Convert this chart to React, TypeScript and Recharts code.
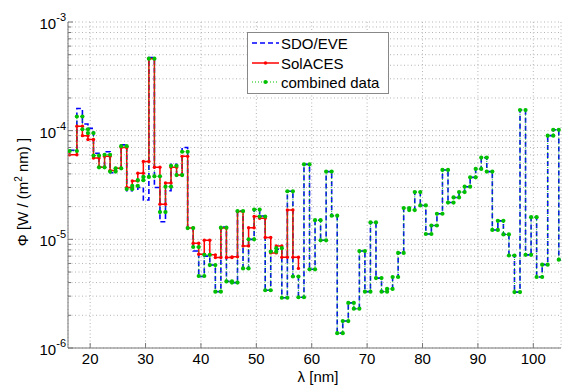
import React from 'react';
import { LineChart, Line, XAxis, YAxis, CartesianGrid } from 'recharts';

const FONT = '"Liberation Sans", Arial, Helvetica, sans-serif';

// wavelength bin edges [nm]; bin i spans binEdges[i]..binEdges[i+1]
const binEdges = [
  16.3, 17.6, 18.6, 19.6, 20.6, 21.6, 22.6, 23.6, 24.6, 25.6, 26.6, 27.6, 28.6, 29.6, 30.6,
  31.6, 32.6, 33.6, 34.6, 35.6, 36.6, 37.6, 38.6, 39.6, 40.6, 41.6, 42.6, 43.6, 44.6, 45.6,
  46.6, 47.6, 48.6, 49.6, 50.6, 51.6, 52.6, 53.6, 54.6, 55.6, 56.6, 57.6, 58.6, 59.6, 60.6,
  61.6, 62.6, 63.6, 64.6, 65.6, 66.6, 67.6, 68.6, 69.6, 70.6, 71.6, 72.6, 73.6, 74.6, 75.6,
  76.6, 77.6, 78.6, 79.6, 80.6, 81.6, 82.6, 83.6, 84.6, 85.6, 86.6, 87.6, 88.6, 89.6, 90.6,
  91.6, 92.6, 93.6, 94.6, 95.6, 96.6, 97.6, 98.6, 99.6, 100.6, 101.6, 102.6, 103.6, 104.6, 105.6,
];

// SDO/EVE flux per bin [W/(m^2 nm)]
const sdoEve = [
  6.6e-5, 1.6e-4, 1.15e-4, 1.05e-4, 6.2e-5, 4.6e-5, 6.4e-5, 4.1e-5, 4.5e-5, 7.4e-5,
  2.8e-5, 2.9e-5, 3.0e-5, 2.3e-5, 4.7e-4, 3.0e-5, 1.45e-5, 2.8e-5, 4.9e-5, 3.9e-5,
  7.0e-5, 1.27e-5, 7.8e-6, 4.55e-6, 7.0e-6, 5.8e-6, 3.3e-6, 1.3e-5, 4.1e-6, 4.0e-6,
  1.82e-5, 5.4e-6, 1.0e-5, 1.88e-5, 1.64e-5, 3.4e-6, 7.8e-6, 8.1e-6, 2.9e-6, 2.77e-5,
  4.55e-6, 2.93e-6, 4.9e-5, 5.3e-6, 1.5e-5, 9.8e-6, 4.2e-5, 1.65e-5, 1.37e-6, 1.77e-6,
  2.6e-6, 2.3e-6, 7.8e-6, 3.3e-6, 1.43e-5, 4.4e-6, 3.3e-6, 3.5e-6, 4.5e-6, 7.5e-6,
  1.94e-5, 1.86e-5, 2.72e-5, 2.05e-5, 1.12e-5, 1.34e-5, 1.72e-5, 4.35e-5, 2.18e-5, 2.43e-5,
  2.72e-5, 3.05e-5, 3.72e-5, 4.45e-5, 5.65e-5, 4.2e-5, 1.22e-5, 1.48e-5, 1.11e-5, 7.1e-6,
  3.27e-6, 1.55e-4, 7.2e-6, 1.6e-5, 4.5e-6, 5.85e-6, 9.0e-5, 1.02e-4, 6.5e-6,
];

// SolACES flux per bin (first 41 bins) and its closing vertex
const solAces = [
  6.0e-5, 1.1e-4, 9.0e-5, 8.3e-5, 5.6e-5, 4.6e-5, 5.8e-5, 4.3e-5, 4.5e-5, 7.0e-5,
  3.0e-5, 3.45e-5, 4.05e-5, 5.2e-5, 4.6e-4, 4.6e-5, 2.1e-5, 3.3e-5, 4.6e-5, 3.9e-5,
  5.8e-5, 1.27e-5, 9.2e-6, 7.3e-6, 9.8e-6, 7.2e-6, 6.8e-6, 1.27e-5, 6.8e-6, 6.9e-6,
  1.8e-5, 8.7e-6, 1.28e-5, 1.62e-5, 1.56e-5, 1.04e-5, 7.5e-6, 8.7e-6, 6.85e-6, 1.86e-5,
  6.85e-6,
];
const solAcesEnd = 5.4e-6;

// combined data per bin
const combined = [
  6.5e-5, 1.35e-4, 1.03e-4, 9.5e-5, 5.9e-5, 4.6e-5, 6.0e-5, 4.2e-5, 4.5e-5, 7.2e-5,
  2.9e-5, 3.1e-5, 3.5e-5, 3.75e-5, 4.6e-4, 3.8e-5, 1.78e-5, 3.05e-5, 4.75e-5, 3.9e-5,
  6.4e-5, 1.27e-5, 8.5e-6, 4.6e-6, 7.2e-6, 5.8e-6, 3.3e-6, 1.28e-5, 4.1e-6, 4.0e-6,
  1.82e-5, 5.4e-6, 1.0e-5, 1.88e-5, 1.62e-5, 3.4e-6, 7.7e-6, 8.3e-6, 2.9e-6, 2.77e-5,
  4.55e-6, 2.93e-6, 4.9e-5, 5.3e-6, 1.5e-5, 9.8e-6, 4.2e-5, 1.65e-5, 1.37e-6, 1.77e-6,
  2.6e-6, 2.3e-6, 7.8e-6, 3.3e-6, 1.43e-5, 4.4e-6, 3.3e-6, 3.5e-6, 4.5e-6, 7.5e-6,
  1.94e-5, 1.86e-5, 2.72e-5, 2.05e-5, 1.12e-5, 1.34e-5, 1.72e-5, 4.35e-5, 2.18e-5, 2.43e-5,
  2.72e-5, 3.05e-5, 3.72e-5, 4.45e-5, 5.65e-5, 4.2e-5, 1.22e-5, 1.48e-5, 1.11e-5, 7.1e-6,
  3.27e-6, 1.55e-4, 7.2e-6, 1.6e-5, 4.5e-6, 5.85e-6, 9.0e-5, 1.02e-4, 6.5e-6,
];

const xDomain = [16, 105];
const xTicks = [20, 30, 40, 50, 60, 70, 80, 90, 100];
const yDomain = [1e-6, 1e-3];
const yTicks = [
  1e-6, 2e-6, 3e-6, 4e-6, 5e-6, 6e-6, 7e-6, 8e-6, 9e-6,
  1e-5, 2e-5, 3e-5, 4e-5, 5e-5, 6e-5, 7e-5, 8e-5, 9e-5,
  1e-4, 2e-4, 3e-4, 4e-4, 5e-4, 6e-4, 7e-4, 8e-4, 9e-4,
  1e-3,
];
const yDecades = [1e-6, 1e-5, 1e-4, 1e-3];

function stairs(values: number[], edges: number[]) {
  const pts: { x: number; y: number }[] = [];
  values.forEach((v, i) => {
    pts.push({ x: edges[i], y: v });
    pts.push({ x: edges[i + 1], y: v });
  });
  return pts;
}

const eveData = stairs(sdoEve, binEdges);
const solData = [...stairs(solAces, binEdges), { x: binEdges[solAces.length], y: solAcesEnd }];
const combData = stairs(combined, binEdges);

const AXIS = '#777';
const BLUE = '#0000ff';
const RED = '#ff0000';
const GREEN = '#00c000';

const isDecade = (v: number) => yDecades.some((d) => Math.abs(v / d - 1) < 1e-6);

const LeftTick = (p: any) => {
  const v = p.payload.value;
  const major = isDecade(v);
  const exp = Math.round(Math.log10(v));
  return (
    <g>
      <line x1={p.x} y1={p.y} x2={p.x + (major ? 5 : 3)} y2={p.y} stroke={AXIS} />
      {major && (
        <text x={p.x - 2} y={p.y + 7} textAnchor="end" fontSize={15} fontFamily={FONT} fill="#000">
          10
          <tspan dy={-8} fontSize={11}>{String(exp)}</tspan>
        </text>
      )}
    </g>
  );
};

const RightTick = (p: any) => {
  const major = isDecade(p.payload.value);
  return <line x1={p.x} y1={p.y} x2={p.x - (major ? 5 : 3)} y2={p.y} stroke={AXIS} />;
};

const BottomTick = (p: any) => (
  <g>
    <line x1={p.x} y1={p.y} x2={p.x} y2={p.y - 5} stroke={AXIS} />
    <text x={p.x} y={p.y + 16} textAnchor="middle" fontSize={15} fontFamily={FONT} fill="#000">
      {p.payload.value}
    </text>
  </g>
);

const TopTick = (p: any) => <line x1={p.x} y1={p.y} x2={p.x} y2={p.y + 5} stroke={AXIS} />;

const redDot = (p: any) => <circle key={`r${p.index}`} cx={p.cx} cy={p.cy} r={1.7} fill={RED} />;
const greenDot = (p: any) => <circle key={`g${p.index}`} cx={p.cx} cy={p.cy} r={2.1} fill={GREEN} />;

export default function App() {
  return (
    <div style={{ position: 'absolute', left: 0, top: 0, width: 563, height: 385, background: '#fff' }}>
      <LineChart width={563} height={385} margin={{ top: 22, right: 2, bottom: 7, left: 8 }}>
        <CartesianGrid stroke="#b4b4b4" strokeDasharray="1 2.5" />
        <XAxis
          dataKey="x"
          type="number"
          domain={xDomain}
          ticks={xTicks}
          interval={0}
          allowDataOverflow
          height={30}
          tickSize={0}
          tickMargin={0}
          tickLine={false}
          axisLine={{ stroke: AXIS }}
          tick={BottomTick}
        />
        <XAxis
          xAxisId="top"
          orientation="top"
          dataKey="x"
          type="number"
          domain={xDomain}
          ticks={xTicks}
          interval={0}
          allowDataOverflow
          height={0}
          tickSize={0}
          tickMargin={0}
          tickLine={false}
          axisLine={{ stroke: AXIS }}
          tick={TopTick}
        />
        <YAxis
          type="number"
          scale="log"
          domain={yDomain}
          ticks={yTicks}
          interval={0}
          allowDataOverflow
          width={60}
          tickSize={0}
          tickMargin={0}
          tickLine={false}
          axisLine={{ stroke: AXIS }}
          tick={LeftTick}
        />
        <YAxis
          yAxisId="right"
          orientation="right"
          type="number"
          scale="log"
          domain={yDomain}
          ticks={yTicks}
          interval={0}
          allowDataOverflow
          width={0}
          tickSize={0}
          tickMargin={0}
          tickLine={false}
          axisLine={{ stroke: AXIS }}
          tick={RightTick}
        />
        <Line
          data={eveData}
          dataKey="y"
          type="linear"
          stroke={BLUE}
          strokeWidth={1.6}
          strokeDasharray="5 3"
          dot={false}
          activeDot={false}
          isAnimationActive={false}
          name="SDO/EVE"
        />
        <Line
          data={solData}
          dataKey="y"
          type="linear"
          stroke={RED}
          strokeWidth={1.5}
          dot={redDot}
          activeDot={false}
          isAnimationActive={false}
          name="SolACES"
        />
        <Line
          data={combData}
          dataKey="y"
          type="linear"
          stroke={GREEN}
          strokeWidth={1}
          strokeDasharray="1 2"
          dot={greenDot}
          activeDot={false}
          isAnimationActive={false}
          name="combined data"
        />
      </LineChart>
      <svg
        width={563}
        height={385}
        style={{ position: 'absolute', left: 0, top: 0, pointerEvents: 'none' }}
      >
        <rect x={247.5} y={32.5} width={141} height={61} fill="#fff" stroke="#888" />
        <line x1={252} y1={43} x2={279} y2={43} stroke={BLUE} strokeWidth={1.6} strokeDasharray="5 3" />
        <text x={281} y={48.5} fontSize={15} fontFamily={FONT} fill="#000">SDO/EVE</text>
        <line x1={252} y1={63} x2={279} y2={63} stroke={RED} strokeWidth={1.5} />
        <circle cx={265.5} cy={63} r={1.7} fill={RED} />
        <text x={281} y={68.5} fontSize={15} fontFamily={FONT} fill="#000">SolACES</text>
        <line x1={252} y1={82} x2={279} y2={82} stroke={GREEN} strokeWidth={1} strokeDasharray="1 2" />
        <circle cx={265.5} cy={82} r={2.1} fill={GREEN} />
        <text x={281} y={87.5} fontSize={15} fontFamily={FONT} fill="#000">combined data</text>
        <text x={318} y={382} textAnchor="middle" fontSize={15} fontFamily={FONT} fill="#000">
          λ [nm]
        </text>
        <text
          x={28}
          y={192}
          textAnchor="middle"
          fontSize={15}
          fontFamily={FONT}
          fill="#000"
          transform="rotate(-90 28 192)"
        >
          Φ [W / (m
          <tspan dy={-6} fontSize={10}>2</tspan>
          <tspan dy={6}> nm) ]</tspan>
        </text>
      </svg>
    </div>
  );
}
